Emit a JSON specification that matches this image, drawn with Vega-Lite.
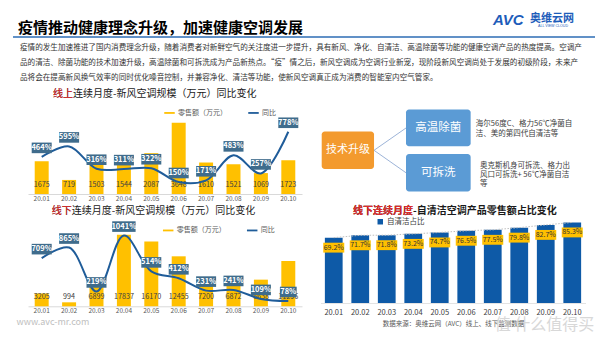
{
 "$schema": "https://vega.github.io/schema/vega-lite/v6.json",
 "background": "white",
 "padding": {"left": 0, "top": 0, "right": 0, "bottom": 8},
 "spacing": 3,
 "resolve": {"scale": {"color": "independent"}, "legend": {"color": "independent"}},
 "config": {
  "font": "Noto Sans CJK SC",
  "view": {"stroke": null},
  "axis": {"grid": false, "tickSize": 0},
  "title": {"font": "Noto Sans CJK SC", "subtitleFont": "Noto Sans CJK SC"},
  "legend": {"labelFont": "Noto Sans CJK SC"}
 },
 "datasets": {
  "header": [
   {"part": "title", "text": "疫情推动健康理念升级，加速健康空调发展"},
   {"part": "rule", "text": ""},
   {"part": "logo", "text": "AVC"},
   {"part": "brand", "text": "奥维云网"},
   {"part": "tagline", "text": "ALL VIEW CLOUD"}
  ],
  "online": [
   {"month": "20.01", "sales": 1675, "yoy": 4.64},
   {"month": "20.02", "sales": 719, "yoy": 5.95},
   {"month": "20.03", "sales": 1503, "yoy": 3.16},
   {"month": "20.04", "sales": 1544, "yoy": 3.11},
   {"month": "20.05", "sales": 2087, "yoy": 3.22},
   {"month": "20.06", "sales": 3648, "yoy": 1.50},
   {"month": "20.07", "sales": 1610, "yoy": 1.71},
   {"month": "20.08", "sales": 1521, "yoy": 4.83},
   {"month": "20.09", "sales": 1069, "yoy": 2.57},
   {"month": "20.10", "sales": 1723, "yoy": 7.78}
  ],
  "offline": [
   {"month": "20.01", "sales": 3205, "yoy": 7.09},
   {"month": "20.02", "sales": 994, "yoy": 8.65},
   {"month": "20.03", "sales": 6899, "yoy": 2.19},
   {"month": "20.04", "sales": 17837, "yoy": 10.41},
   {"month": "20.05", "sales": 16170, "yoy": 5.14},
   {"month": "20.06", "sales": 12455, "yoy": 4.12},
   {"month": "20.07", "sales": 7200, "yoy": 2.31},
   {"month": "20.08", "sales": 6872, "yoy": 2.41},
   {"month": "20.09", "sales": 6638, "yoy": 1.09},
   {"month": "20.10", "sales": 11296, "yoy": 0.78}
  ],
  "selfclean": [
   {"month": "20.01", "share": 0.692},
   {"month": "20.02", "share": 0.717},
   {"month": "20.03", "share": 0.718},
   {"month": "20.04", "share": 0.732},
   {"month": "20.05", "share": 0.747},
   {"month": "20.06", "share": 0.765},
   {"month": "20.07", "share": 0.775},
   {"month": "20.08", "share": 0.798},
   {"month": "20.09", "share": 0.827},
   {"month": "20.10", "share": 0.853}
  ],
  "nodes": [
   {"label": "技术升级", "level": "root", "desc": ""},
   {"label": "高温除菌", "level": "branch", "desc": "海尔56度C、格力56℃净菌自\n洁、美的第四代自清洁等"},
   {"label": "可拆洗", "level": "branch", "desc": "奥克斯机身可拆洗、格力出\n风口可拆洗+ 56℃净菌自洁\n等"}
  ],
  "edges": [
   {"from": "技术升级", "to": "高温除菌"},
   {"from": "技术升级", "to": "可拆洗"}
  ],
  "watermark": [
   {"text": "值 什么值得买"}
  ]
 },
 "vconcat": [
  {
   "width": 572,
   "height": 40,
   "data": {"name": "header"},
   "layer": [
    {
     "transform": [{"filter": "datum.part === 'title'"}],
     "mark": {"type": "text", "align": "left", "baseline": "middle", "fontSize": 15, "fontWeight": "bold", "color": "#000000"},
     "encoding": {
      "x": {"datum": 3, "type": "quantitative", "scale": {"domain": [4.667, 100]}, "axis": null},
      "y": {"datum": 70, "type": "quantitative", "scale": {"domain": [0, 100], "reverse": true},
            "axis": {"labels": false, "ticks": false, "domain": false, "grid": false, "title": null, "minExtent": 28, "maxExtent": 28}},
      "text": {"field": "text"}
     }
    },
    {
     "transform": [{"filter": "datum.part === 'rule'"}],
     "mark": {"type": "rule", "color": "#2C6DB5", "strokeWidth": 1.6},
     "encoding": {
      "x": {"datum": 2.17, "type": "quantitative", "scale": {"domain": [4.667, 100]}},
      "x2": {"datum": 99.17},
      "y": {"datum": 92.5, "type": "quantitative", "scale": {"domain": [0, 100], "reverse": true}}
     }
    },
    {
     "transform": [{"filter": "datum.part === 'logo'"}],
     "mark": {"type": "text", "align": "left", "baseline": "middle", "fontSize": 15, "fontWeight": "bold", "fontStyle": "italic", "font": "Liberation Sans", "color": "#1E5DBA"},
     "encoding": {
      "x": {"datum": 82.17, "type": "quantitative", "scale": {"domain": [4.667, 100]}},
      "y": {"datum": 49.25, "type": "quantitative", "scale": {"domain": [0, 100], "reverse": true}},
      "text": {"field": "text"}
     }
    },
    {
     "transform": [{"filter": "datum.part === 'brand'"}],
     "mark": {"type": "text", "align": "left", "baseline": "middle", "fontSize": 11, "fontWeight": "bold", "color": "#1E5DBA"},
     "encoding": {
      "x": {"datum": 88.33, "type": "quantitative", "scale": {"domain": [4.667, 100]}},
      "y": {"datum": 47.5, "type": "quantitative", "scale": {"domain": [0, 100], "reverse": true}},
      "text": {"field": "text"}
     }
    },
    {
     "transform": [{"filter": "datum.part === 'tagline'"}],
     "mark": {"type": "text", "align": "left", "baseline": "middle", "fontSize": 3.6, "font": "Liberation Sans", "color": "#1E5DBA"},
     "encoding": {
      "x": {"datum": 89.67, "type": "quantitative", "scale": {"domain": [4.667, 100]}},
      "y": {"datum": 64.25, "type": "quantitative", "scale": {"domain": [0, 100], "reverse": true}},
      "text": {"field": "text"}
     }
    }
   ]
  },
  {
   "title": {
    "text": [
     "疫情的发生加速推进了国内消费理念升级，随着消费者对新鲜空气的关注度进一步提升，具有新风、净化、自清洁、高温除菌等功能的健康空调产品的热度提高。空调产",
     "品的清洁、除菌功能的技术加速升级，高温除菌和可拆洗成为产品新热点。“疫”情之后，新风空调成为空调行业新宠，现阶段新风空调尚处于发展的初级阶段，未来产",
     "品将会在提高新风换气效率的同时优化噪音控制，并兼容净化、清洁等功能，使新风空调真正成为消费的智能室内空气管家。"
    ],
    "anchor": "start",
    "frame": "bounds",
    "dx": 20,
    "fontSize": 7.6,
    "fontWeight": "normal",
    "color": "#333333",
    "lineHeight": 15,
    "offset": 7.7
   },
   "spacing": 18.5,
   "resolve": {"scale": {"color": "independent"}, "legend": {"color": "independent"}},
   "hconcat": [
    {
     "width": 274,
     "height": 88,
     "title": {
      "text": "线上连续月度-新风空调规模（万元）同比变化",
      "subtitle": "线上",
      "frame": "group",
      "anchor": "start",
      "dx": 25,
      "offset": 7,
      "fontSize": 10,
      "fontWeight": "normal",
      "color": "#1A1A1A",
      "subtitleFontSize": 10,
      "subtitleFontWeight": "normal",
      "subtitleColor": "#E02B2B",
      "subtitlePadding": -10
     },
     "data": {"name": "online"},
     "encoding": {
      "x": {
       "field": "month", "type": "ordinal", "sort": null,
       "scale": {"paddingInner": 0.49, "paddingOuter": 0.245},
       "axis": {"title": null, "labelAngle": 0, "labelFontSize": 6.5, "labelColor": "#595959", "ticks": false, "tickSize": 0, "labelPadding": 1, "domainColor": "#D9D9D9", "domainWidth": 1}
      }
     },
     "layer": [
      {
       "layer": [
        {
         "mark": {"type": "bar"},
         "encoding": {
          "y": {"field": "sales", "type": "quantitative", "scale": {"domain": [0, 4118]},
                "axis": {"labels": false, "ticks": false, "domain": false, "grid": false, "title": null, "minExtent": 28, "maxExtent": 28}},
          "color": {
           "datum": "零售额（万元）",
           "scale": {"domain": ["零售额（万元）", "同比"], "range": ["#FFC000", "#1F5C99"]},
           "legend": {
            "title": null, "orient": "none", "legendX": 135, "legendY": 0, "direction": "horizontal",
            "symbolType": "stroke", "symbolSize": 110, "symbolStrokeWidth": 1.8,
            "labelFontSize": 7, "labelColor": "#595959", "columnPadding": 17, "labelOffset": 2, "padding": 0,
            "encode": {"symbols": {"update": {"stroke": {"scale": "color", "field": "value"}, "fill": {"value": "transparent"}}}}
           }
          }
         }
        },
        {
         "mark": {"type": "text", "baseline": "bottom", "dy": -5, "fontSize": 7.2, "color": "#404040"},
         "encoding": {
          "y": {"datum": 0, "type": "quantitative"},
          "text": {"field": "sales", "type": "quantitative", "format": "d"}
         }
        }
       ]
      },
      {
       "layer": [
        {
         "mark": {"type": "line", "interpolate": "catmull-rom", "strokeWidth": 2},
         "encoding": {
          "y": {"field": "yoy", "type": "quantitative", "scale": {"domain": [0.13, 10.18]}, "axis": null},
          "color": {"datum": "同比"}
         }
        },
        {
         "mark": {"type": "point", "filled": true, "opacity": 1, "size": 400, "color": "#3F6C8C", "strokeWidth": 0, "yOffset": -9},
         "encoding": {
          "y": {"field": "yoy", "type": "quantitative"},
          "shape": {
           "condition": [
            {"test": "datum.yoy >= 10", "value": "M-1.17,-0.53H1.17V0.53H-1.17Z"},
            {"test": "datum.yoy < 1", "value": "M-0.84,-0.53H0.84V0.53H-0.84Z"}
           ],
           "value": "M-1,-0.53H1V0.53H-1Z"
          }
         }
        },
        {
         "mark": {"type": "text", "yOffset": -9, "color": "white", "fontSize": 7.5, "fontWeight": "bold", "baseline": "middle"},
         "encoding": {
          "y": {"field": "yoy", "type": "quantitative"},
          "text": {"field": "yoy", "type": "quantitative", "format": ".0%"}
         }
        }
       ]
      }
     ],
     "resolve": {"scale": {"y": "independent"}}
    },
    {
     "width": 274.5,
     "height": 88.3,
     "title": {"text": " ", "fontSize": 10, "offset": 7, "frame": "group", "anchor": "start"},
     "layer": [
      {
       "data": {"name": "edges"},
       "transform": [{"filter": "datum.to === '高温除菌'"}],
       "mark": {"type": "rule", "color": "#9DB4D8", "strokeWidth": 1},
       "encoding": {
        "x": {"datum": 19.5, "type": "quantitative", "scale": {"domain": [0, 100]}, "axis": null},
        "x2": {"datum": 31.15},
        "y": {"datum": 50.2, "type": "quantitative", "scale": {"domain": [0, 100], "reverse": true}, "axis": null},
        "y2": {"datum": 24.9}
       }
      },
      {
       "data": {"name": "edges"},
       "transform": [{"filter": "datum.to === '可拆洗'"}],
       "mark": {"type": "rule", "color": "#9DB4D8", "strokeWidth": 1},
       "encoding": {
        "x": {"datum": 19.5, "type": "quantitative", "scale": {"domain": [0, 100]}, "axis": null},
        "x2": {"datum": 31.15},
        "y": {"datum": 50.2, "type": "quantitative", "scale": {"domain": [0, 100], "reverse": true}, "axis": null},
        "y2": {"datum": 75.6}
       }
      },
      {
       "data": {"name": "nodes"},
       "transform": [{"filter": "datum.label === '技术升级'"}],
       "layer": [
        {
         "mark": {"type": "rect", "color": "#F39A2E", "cornerRadius": 3},
         "encoding": {
          "x": {"datum": 0.44, "type": "quantitative", "scale": {"domain": [0, 100]}, "axis": null},
          "x2": {"datum": 19.5},
          "y": {"datum": 29.0, "type": "quantitative", "scale": {"domain": [0, 100], "reverse": true}, "axis": null},
          "y2": {"datum": 71.3}
         }
        },
        {
         "mark": {"type": "text", "color": "white", "fontSize": 11, "baseline": "middle", "align": "center"},
         "encoding": {
          "x": {"datum": 10.0, "type": "quantitative", "scale": {"domain": [0, 100]}, "axis": null},
          "y": {"datum": 50.2, "type": "quantitative", "scale": {"domain": [0, 100], "reverse": true}, "axis": null},
          "text": {"field": "label"}
         }
        }
       ]
      },
      {
       "data": {"name": "nodes"},
       "transform": [{"filter": "datum.label === '高温除菌'"}],
       "layer": [
        {
         "mark": {"type": "rect", "color": "#5B9BD5", "cornerRadius": 3},
         "encoding": {
          "x": {"datum": 31.15, "type": "quantitative", "scale": {"domain": [0, 100]}, "axis": null},
          "x2": {"datum": 54.7},
          "y": {"datum": 4.1, "type": "quantitative", "scale": {"domain": [0, 100], "reverse": true}, "axis": null},
          "y2": {"datum": 45.6}
         }
        },
        {
         "mark": {"type": "text", "color": "white", "fontSize": 11.5, "baseline": "middle", "align": "center"},
         "encoding": {
          "x": {"datum": 42.9, "type": "quantitative", "scale": {"domain": [0, 100]}, "axis": null},
          "y": {"datum": 24.9, "type": "quantitative", "scale": {"domain": [0, 100], "reverse": true}, "axis": null},
          "text": {"field": "label"}
         }
        },
        {
         "mark": {"type": "text", "color": "#404040", "fontSize": 7.5, "baseline": "middle", "align": "left", "lineBreak": "\n", "lineHeight": 9.4},
         "encoding": {
          "x": {"datum": 56.6, "type": "quantitative", "scale": {"domain": [0, 100]}, "axis": null},
          "y": {"datum": 20.7, "type": "quantitative", "scale": {"domain": [0, 100], "reverse": true}, "axis": null},
          "text": {"field": "desc"}
         }
        }
       ]
      },
      {
       "data": {"name": "nodes"},
       "transform": [{"filter": "datum.label === '可拆洗'"}],
       "layer": [
        {
         "mark": {"type": "rect", "color": "#5B9BD5", "cornerRadius": 3},
         "encoding": {
          "x": {"datum": 31.15, "type": "quantitative", "scale": {"domain": [0, 100]}, "axis": null},
          "x2": {"datum": 54.7},
          "y": {"datum": 54.4, "type": "quantitative", "scale": {"domain": [0, 100], "reverse": true}, "axis": null},
          "y2": {"datum": 96.9}
         }
        },
        {
         "mark": {"type": "text", "color": "white", "fontSize": 11.5, "baseline": "middle", "align": "center"},
         "encoding": {
          "x": {"datum": 42.9, "type": "quantitative", "scale": {"domain": [0, 100]}, "axis": null},
          "y": {"datum": 75.6, "type": "quantitative", "scale": {"domain": [0, 100], "reverse": true}, "axis": null},
          "text": {"field": "label"}
         }
        },
        {
         "mark": {"type": "text", "color": "#404040", "fontSize": 7.5, "baseline": "middle", "align": "left", "lineBreak": "\n", "lineHeight": 9.4},
         "encoding": {
          "x": {"datum": 58.1, "type": "quantitative", "scale": {"domain": [0, 100]}, "axis": null},
          "y": {"datum": 67.5, "type": "quantitative", "scale": {"domain": [0, 100], "reverse": true}, "axis": null},
          "text": {"field": "desc"}
         }
        }
       ]
      }
     ]
    }
   ]
  },
  {
   "spacing": 18.5,
   "resolve": {"scale": {"color": "independent"}, "legend": {"color": "independent"}},
   "hconcat": [
    {
     "width": 274,
     "height": 88.3,
     "title": {
      "text": "线下连续月度-新风空调规模（万元）同比变化",
      "subtitle": "线下",
      "frame": "group",
      "anchor": "start",
      "dx": 23.7,
      "offset": 2.5,
      "fontSize": 10,
      "fontWeight": "normal",
      "color": "#1A1A1A",
      "subtitleFontSize": 10,
      "subtitleFontWeight": "normal",
      "subtitleColor": "#E02B2B",
      "subtitlePadding": -10
     },
     "data": {"name": "offline"},
     "encoding": {
      "x": {
       "field": "month", "type": "ordinal", "sort": null,
       "scale": {"paddingInner": 0.49, "paddingOuter": 0.245},
       "axis": {"title": "www.avc-mr.com", "titleFontSize": 9, "titleColor": "#C0C0C0", "titleFontWeight": "normal", "titleAlign": "left", "titleBaseline": "middle", "titleX": -12, "titleY": 14.7,
                "labelAngle": 0, "labelFontSize": 6.5, "labelColor": "#595959", "ticks": false, "tickSize": 0, "labelPadding": 1, "domainColor": "#D9D9D9", "domainWidth": 1}
      }
     },
     "layer": [
      {
       "layer": [
        {
         "mark": {"type": "bar"},
         "encoding": {
          "y": {"field": "sales", "type": "quantitative", "scale": {"domain": [0, 21678]},
                "axis": {"labels": false, "ticks": false, "domain": false, "grid": false, "title": null, "minExtent": 28, "maxExtent": 28}},
          "color": {
           "datum": "零售额（万元）",
           "scale": {"domain": ["零售额（万元）", "同比"], "range": ["#FFC000", "#1F5C99"]},
           "legend": {
            "title": null, "orient": "none", "legendX": 133.7, "legendY": 5.5, "direction": "horizontal",
            "symbolType": "stroke", "symbolSize": 110, "symbolStrokeWidth": 1.8,
            "labelFontSize": 7, "labelColor": "#595959", "columnPadding": 17, "labelOffset": 2, "padding": 0,
            "encode": {"symbols": {"update": {"stroke": {"scale": "color", "field": "value"}, "fill": {"value": "transparent"}}}}
           }
          }
         }
        },
        {
         "mark": {"type": "text", "baseline": "bottom", "dy": -5, "fontSize": 7.2, "color": "#404040"},
         "encoding": {
          "y": {"datum": 0, "type": "quantitative"},
          "text": {"field": "sales", "type": "quantitative", "format": "d"}
         }
        }
       ]
      },
      {
       "layer": [
        {
         "mark": {"type": "line", "interpolate": "catmull-rom", "strokeWidth": 2},
         "encoding": {
          "y": {"field": "yoy", "type": "quantitative", "scale": {"domain": [0, 12.95]}, "axis": null},
          "color": {"datum": "同比"}
         }
        },
        {
         "mark": {"type": "point", "filled": true, "opacity": 1, "size": 400, "color": "#3F6C8C", "strokeWidth": 0, "yOffset": -9},
         "encoding": {
          "y": {"field": "yoy", "type": "quantitative"},
          "shape": {
           "condition": [
            {"test": "datum.yoy >= 10", "value": "M-1.17,-0.53H1.17V0.53H-1.17Z"},
            {"test": "datum.yoy < 1", "value": "M-0.84,-0.53H0.84V0.53H-0.84Z"}
           ],
           "value": "M-1,-0.53H1V0.53H-1Z"
          }
         }
        },
        {
         "mark": {"type": "text", "yOffset": -9, "color": "white", "fontSize": 7.5, "fontWeight": "bold", "baseline": "middle"},
         "encoding": {
          "y": {"field": "yoy", "type": "quantitative"},
          "text": {"field": "yoy", "type": "quantitative", "format": ".0%"}
         }
        }
       ]
      }
     ],
     "resolve": {"scale": {"y": "independent"}}
    },
    {
     "width": 265,
     "height": 85,
     "title": {
      "text": "线下连续月度-自清洁空调产品零售额占比变化",
      "subtitle": "线下连续月度",
      "frame": "group",
      "anchor": "start",
      "dx": 32.5,
      "offset": 2.5,
      "fontSize": 10,
      "fontWeight": "bold",
      "color": "#1A1A1A",
      "subtitleFontSize": 10,
      "subtitleFontWeight": "bold",
      "subtitleColor": "#E02B2B",
      "subtitlePadding": -10
     },
     "data": {"name": "selfclean"},
     "encoding": {
      "x": {
       "field": "month", "type": "ordinal", "sort": null,
       "scale": {"paddingInner": 0.33, "paddingOuter": 0.165},
       "axis": {"title": "数据来源：奥维云网（AVC）线上、线下监测数据", "titleFontSize": 6.5, "titleColor": "#595959", "titleFontWeight": "normal", "titlePadding": 5,
                "labelAngle": 0, "labelFontSize": 7.5, "labelColor": "#404040", "ticks": false, "tickSize": 0, "labelPadding": 5, "domainColor": "#E3E3E3", "domainWidth": 1}
      }
     },
     "layer": [
      {
       "mark": {"type": "bar"},
       "encoding": {
        "y": {"field": "share", "type": "quantitative", "scale": {"domain": [0, 0.85]}, "axis": null},
        "color": {
         "datum": "自清洁占比",
         "scale": {"domain": ["自清洁占比"], "range": ["#0E5AA7"]},
         "legend": {"title": null, "orient": "none", "legendX": 56, "legendY": 0, "symbolType": "square", "symbolSize": 30, "labelFontSize": 7.5, "labelColor": "#404040", "labelOffset": 3, "padding": 0}
        }
       }
      },
      {
       "mark": {"type": "line", "color": "#BFBFBF", "strokeDash": [1.5, 1.5], "strokeWidth": 1},
       "encoding": {"y": {"field": "share", "type": "quantitative"}}
      },
      {
       "mark": {"type": "point", "filled": true, "opacity": 1, "size": 441, "color": "#FFC000", "strokeWidth": 0, "shape": "M-1,-0.47H1V0.47H-1Z", "yOffset": 10},
       "encoding": {"y": {"field": "share", "type": "quantitative"}}
      },
      {
       "mark": {"type": "text", "yOffset": 10, "color": "#333333", "fontSize": 7, "baseline": "middle"},
       "encoding": {
        "y": {"field": "share", "type": "quantitative"},
        "text": {"field": "share", "type": "quantitative", "format": ".1%"}
       }
      },
      {
       "data": {"name": "watermark"},
       "mark": {"type": "text", "align": "right", "baseline": "middle", "fontSize": 16, "color": "#C8C8C8", "opacity": 0.7, "dx": 22},
       "encoding": {
        "x": {"datum": "20.10", "type": "ordinal"},
        "y": {"datum": -0.23, "type": "quantitative"},
        "text": {"field": "text"}
       }
      }
     ]
    }
   ]
  }
 ]
}
